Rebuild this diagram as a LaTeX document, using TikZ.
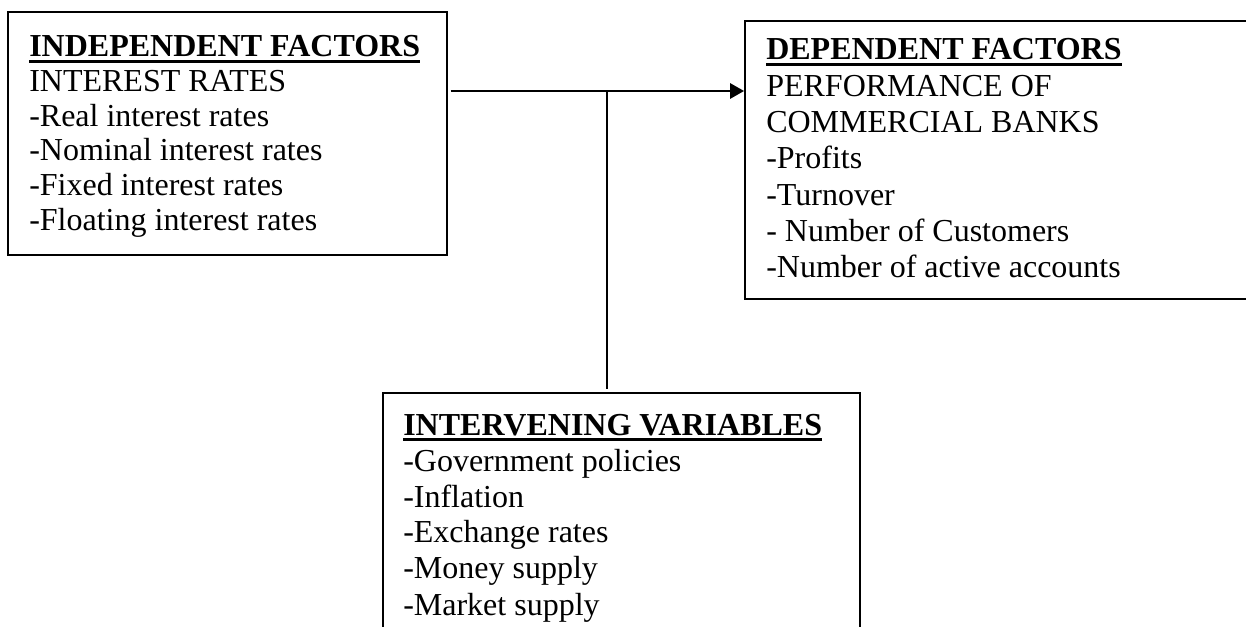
\documentclass[tikz,border=0pt]{standalone}
\usepackage{fontspec}
\setmainfont{Liberation Serif}
\usetikzlibrary{arrows.meta,fit}
\newcommand{\ulhead}[1]{\setbox0\hbox{\bfseries #1}\rlap{\rule[-4.2pt]{\wd0}{1.9pt}}\box0}
\begin{document}
\begin{tikzpicture}[x=0.75pt,y=-0.75pt,
  box/.style={draw,line width=1.4pt,inner sep=0pt},
  txt/.style={anchor=base west,inner sep=0pt,font=\fontsize{24}{27.2}\selectfont},
  link/.style={line width=1.5pt}]
\useasboundingbox (0,0) rectangle (1246,627);
\clip (0,0) rectangle (1246,627);
% the three boxes
\node[box,fit={(8,12) (447,255)}] (indep) {};
\node[box,fit={(745,21) (1290,299)}] (dep) {};
\node[box,fit={(383,393) (860,670)}] (interv) {};
% their texts
\node[txt,font=\fontsize{24}{26}\selectfont] (indepTxt) at (29,57) {\begin{tabular}[t]{@{}l@{}}
  \ulhead{INDEPENDENT FACTORS}\\
  INTEREST RATES\\
  -Real interest rates\\
  -Nominal interest rates\\
  -Fixed interest rates\\
  -Floating interest rates
\end{tabular}};
\node[txt] (depTxt) at (766,60) {\begin{tabular}[t]{@{}l@{}}
  \ulhead{DEPENDENT FACTORS}\\
  PERFORMANCE OF\\
  COMMERCIAL BANKS\\
  -Profits\\
  -Turnover\\
  - Number of Customers\\
  -Number of active accounts
\end{tabular}};
\node[txt,font=\fontsize{24}{27}\selectfont] (intervTxt) at (403,435) {\begin{tabular}[t]{@{}l@{}}
  \ulhead{INTERVENING VARIABLES}\\
  -Government policies\\
  -Inflation\\
  -Exchange rates\\
  -Money supply\\
  -Market supply
\end{tabular}};
% connectors
\coordinate (junc) at (607,91);
\draw[link,-{Triangle[length=10.5pt,width=11.5pt]},shorten <=2pt] (indep.east |- junc) -- (dep.west |- junc);
\draw[link,shorten >=2pt] (junc) -- (interv.north -| junc);
\end{tikzpicture}
\end{document}
